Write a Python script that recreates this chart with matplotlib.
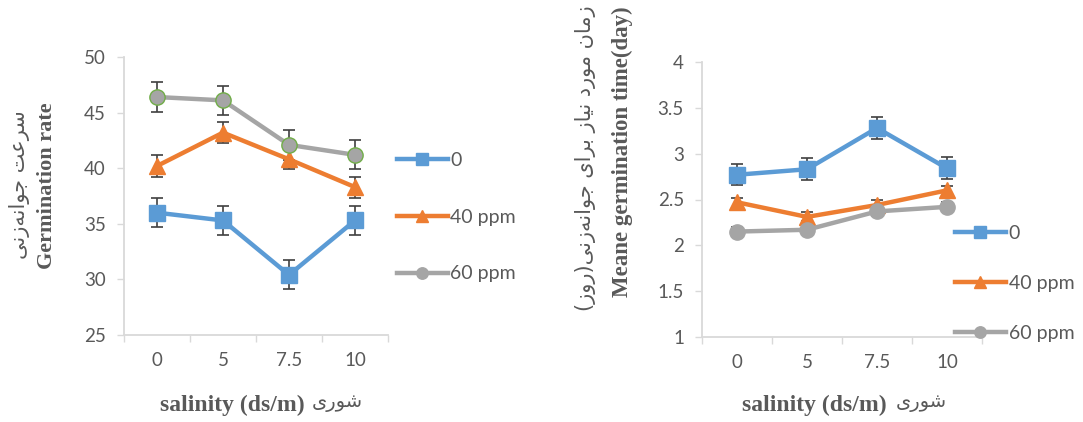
import matplotlib
matplotlib.use("Agg")
import matplotlib.pyplot as plt

# data
salinity = ["0", "5", "7.5", "10"]
series_labels = ["0", "40 ppm", "60 ppm"]

rate_0 = [36.0, 35.3, 30.4, 35.3]
rate_40 = [40.2, 43.2, 40.8, 38.3]
rate_60 = [46.4, 46.1, 42.1, 41.2]
rate_err_0 = [1.3, 1.3, 1.3, 1.3]
rate_err_40 = [1.0, 0.95, 0.9, 0.95]
rate_err_60 = [1.35, 1.3, 1.35, 1.3]

mgt_0 = [2.77, 2.83, 3.28, 2.84]
mgt_40 = [2.47, 2.31, 2.44, 2.60]
mgt_60 = [2.15, 2.17, 2.37, 2.42]
mgt_err_0 = [0.115, 0.12, 0.125, 0.12]
mgt_err_40 = [0.05, 0.05, 0.05, 0.05]
mgt_err_60 = [0.05, 0.05, 0.05, 0.05]

COLORS = ["#5B9BD5", "#ED7D31", "#A5A5A5"]
MARKERS = ["s", "^", "o"]
TXT = "#595959"
AXC = "#D9D9D9"

# arabic presentation forms: isolated, final, initial, medial
FORMS = {
    "ا": ("\uFE8D", "\uFE8E", None, None),
    "ب": ("\uFE8F", "\uFE90", "\uFE91", "\uFE92"),
    "ت": ("\uFE95", "\uFE96", "\uFE97", "\uFE98"),
    "ج": ("\uFE9D", "\uFE9E", "\uFE9F", "\uFEA0"),
    "د": ("\uFEA9", "\uFEAA", None, None),
    "ر": ("\uFEAD", "\uFEAE", None, None),
    "ز": ("\uFEAF", "\uFEB0", None, None),
    "س": ("\uFEB1", "\uFEB2", "\uFEB3", "\uFEB4"),
    "ش": ("\uFEB5", "\uFEB6", "\uFEB7", "\uFEB8"),
    "ع": ("\uFEC9", "\uFECA", "\uFECB", "\uFECC"),
    "م": ("\uFEE1", "\uFEE2", "\uFEE3", "\uFEE4"),
    "ن": ("\uFEE5", "\uFEE6", "\uFEE7", "\uFEE8"),
    "ه": ("\uFEE9", "\uFEEA", "\uFEEB", "\uFEEC"),
    "و": ("\uFEED", "\uFEEE", None, None),
    "ی": ("\uFEEF", "\uFEF0", "\uFEF3", "\uFEF4"),
}
MIRROR = {"(": ")", ")": "("}


def persian(s):
    out = []
    for i, c in enumerate(s):
        if c not in FORMS:
            if c != "\u200c":
                out.append(c)
            continue
        prev = s[i - 1] if i > 0 else ""
        nxt = s[i + 1] if i < len(s) - 1 else ""
        jp = prev in FORMS and FORMS[prev][2] is not None
        jn = nxt in FORMS and FORMS[c][2] is not None
        f = FORMS[c]
        if jp and jn:
            out.append(f[3])
        elif jp:
            out.append(f[1])
        elif jn:
            out.append(f[2])
        else:
            out.append(f[0])
    return "".join(MIRROR.get(c, c) for c in reversed(out))


EN = dict(family=["Liberation Serif", "DejaVu Serif"], weight="bold", color=TXT)
FA = dict(family=["DejaVu Sans"], color=TXT)


def style_axes(ax, ylim, yticks):
    x = list(range(len(salinity)))
    ax.set_xlim(-0.5, len(salinity) - 0.5)
    ax.set_ylim(*ylim)
    ax.set_yticks(yticks)
    ax.set_yticklabels([f"{v:g}" for v in yticks])
    ax.set_xticks(x)
    ax.set_xticklabels(salinity)
    ax.set_xticks([v - 0.5 for v in range(len(salinity) + 1)], minor=True)
    ax.tick_params(axis="x", which="major", length=0, pad=12)
    ax.tick_params(axis="x", which="minor", length=5, color=AXC, width=1)
    ax.tick_params(axis="y", length=5, color=AXC, width=1, pad=8)
    ax.tick_params(labelsize=13.5, labelcolor=TXT)
    for lab in ax.get_xticklabels() + ax.get_yticklabels():
        lab.set_family("Lato")
    for s in ["top", "right"]:
        ax.spines[s].set_visible(False)
    for s in ["left", "bottom"]:
        ax.spines[s].set_color(AXC)
        ax.spines[s].set_linewidth(1.3)


def plot_series(ax, vals, errs, edges, big=11):
    x = list(range(len(salinity)))
    for i, (v, e) in enumerate(zip(vals, errs)):
        ax.errorbar(x, v, yerr=e, fmt="none", ecolor="#404040", elinewidth=1.2,
                    capsize=4, capthick=1.2, zorder=2)
        ax.plot(x, v, color=COLORS[i], lw=3.2, marker=MARKERS[i], ms=big,
                mec=edges[i], mew=1, label=series_labels[i], zorder=3)


def add_legend(ax, anchor, spacing):
    leg = ax.legend(loc="center left", bbox_to_anchor=anchor, frameon=False,
                    borderaxespad=0, borderpad=0, labelspacing=spacing,
                    handlelength=2.6, handletextpad=0.15, markerscale=0.75,
                    prop=dict(family="Lato", size=14))
    for t in leg.get_texts():
        t.set_color(TXT)
    for h, c in zip(leg.legend_handles, COLORS):
        h.set_markeredgecolor(c)


fig = plt.figure(figsize=(10.83, 4.22), dpi=100)

ax1 = fig.add_axes([124 / 1083, 1 - 335 / 422, 264 / 1083, 278 / 422])
plot_series(ax1, [rate_0, rate_40, rate_60], [rate_err_0, rate_err_40, rate_err_60],
            [COLORS[0], COLORS[1], "#70AD47"])
style_axes(ax1, (25, 50), [25, 30, 35, 40, 45, 50])
add_legend(ax1, (1.034, 0.424), 2.05)

ax2 = fig.add_axes([702 / 1083, 1 - 337 / 422, 280 / 1083, 275 / 422])
plot_series(ax2, [mgt_0, mgt_40, mgt_60], [mgt_err_0, mgt_err_40, mgt_err_60], COLORS)
style_axes(ax2, (1, 4), [1, 1.5, 2, 2.5, 3, 3.5, 4])
add_legend(ax2, (0.904, 0.196), 1.7)

# axis titles (english + persian)
fig.text(20 / 1083, 1 - 185 / 422, persian("سرعت جوانه\u200cزنی"), rotation=90,
         ha="center", va="center", fontsize=15, **FA)
fig.text(47 / 1083, 1 - 186 / 422, "Germination rate", rotation=90,
         ha="center", va="center", fontsize=16, **EN)
fig.text(585 / 1083, 1 - 158 / 422, persian("زمان مورد نیاز برای جوانه\u200cزنی(روز)"),
         rotation=90, ha="center", va="center", fontsize=15, **FA)
fig.text(622 / 1083, 1 - 152 / 422, "Meane germination time(day)", rotation=90,
         ha="center", va="center", fontsize=16.5, **EN)

for xe, xf in [(305, 312), (887, 896)]:
    fig.text(xe / 1083, 1 - 405 / 422, "salinity (ds/m)", ha="right", va="center",
             fontsize=17, **EN)
    fig.text(xf / 1083, 1 - 403 / 422, persian("شوری"), ha="left", va="center",
             fontsize=14, **FA)

fig.savefig("out.png", dpi=100, facecolor="white")
